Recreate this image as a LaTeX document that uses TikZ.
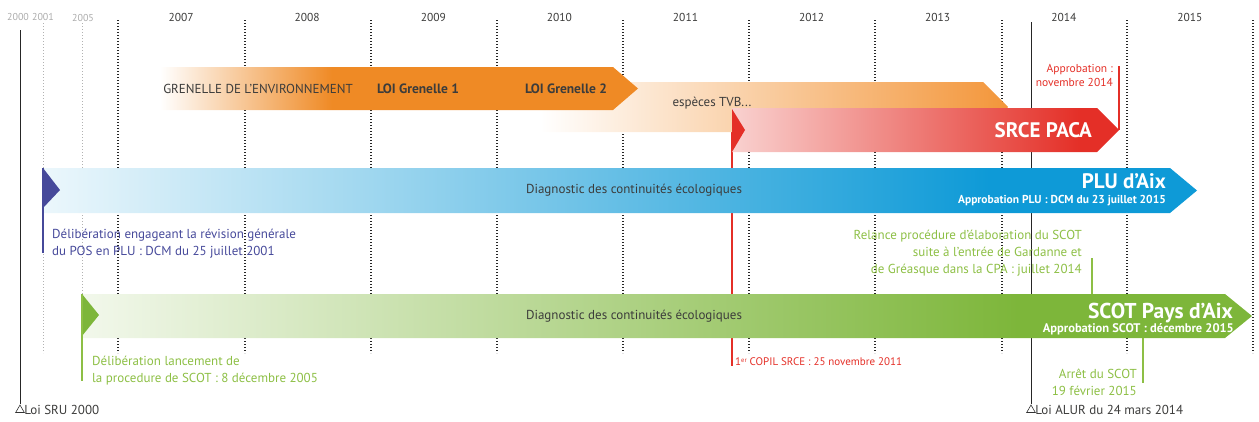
\documentclass[tikz,border=0pt]{standalone}
\usepackage{fontspec}
\setmainfont{PT Sans}
\usepackage{tikz}
\usetikzlibrary{positioning,shapes.geometric}
\definecolor{txtgray}{HTML}{3C3C3B}
\definecolor{yeargray}{HTML}{ABABAB}
\definecolor{navyplu}{HTML}{46499A}
\definecolor{bluplu}{HTML}{0E9AD7}
\definecolor{greenscot}{HTML}{7DB63A}
\definecolor{greentxt}{HTML}{8DBF45}
\definecolor{redsrce}{HTML}{E42F27}
\definecolor{orangegr}{HTML}{EF8A25}
\definecolor{orangetvb}{HTML}{F3963A}
\colorlet{srcelight}{redsrce!22}
\colorlet{plulight}{bluplu!8}
\colorlet{scotlight}{greenscot!10}
% degrades des bandes
\pgfdeclarehorizontalshading{grenelleshade}{100bp}{color(0bp)=(white); color(25bp)=(white); color(43bp)=(orangegr); color(100bp)=(orangegr)}
\pgfdeclarehorizontalshading{tvbshade}{100bp}{color(0bp)=(white); color(25bp)=(white); color(75bp)=(orangetvb); color(100bp)=(orangetvb)}
\pgfdeclarehorizontalshading{srceshade}{100bp}{color(0bp)=(srcelight); color(25bp)=(srcelight); color(70bp)=(redsrce); color(100bp)=(redsrce)}
\pgfdeclarehorizontalshading{plushade}{100bp}{color(0bp)=(plulight); color(25bp)=(plulight); color(66bp)=(bluplu); color(100bp)=(bluplu)}
\pgfdeclarehorizontalshading{scotshade}{100bp}{color(0bp)=(scotlight); color(25bp)=(scotlight); color(65bp)=(greenscot); color(100bp)=(greenscot)}
\newcommand{\premier}{1\raisebox{3.5pt}{\fontsize{6.5}{7}\selectfont er}}
\tikzset{
  yearlbl/.style={font=\fontsize{11.5}{12}\selectfont, text=txtgray, inner sep=0pt},
  oldyearlbl/.style={font=\fontsize{10}{10}\selectfont, text=yeargray, inner sep=0pt},
  gridline/.style={line width=1.2pt, dash pattern=on 1.2pt off 1.8pt, black!85},
  oldgridline/.style={line width=1pt, dash pattern=on 1pt off 2pt, black!30},
  lawline/.style={line width=1pt, black!85},
  lawtri/.style={regular polygon, regular polygon sides=3, draw=black!80, line width=0.6pt,
    minimum size=10pt, inner sep=0pt},
  lawlbl/.style={font=\fontsize{13}{14}\selectfont, text=txtgray, inner sep=0pt},
  bandmid/.style={font=\fontsize{13}{14}\selectfont, text=txtgray, inner sep=0pt},
  bandbold/.style={bandmid, font=\fontsize{13.5}{14}\selectfont\bfseries},
  bandtitle/.style={font=\fontsize{21}{22}\selectfont\bfseries, text=white, inner sep=0pt},
  bandsub/.style={font=\fontsize{11.5}{12}\selectfont\bfseries, text=white, inner sep=0pt},
  note/.style={font=\fontsize{13}{17}\selectfont, inner sep=0pt},
  plunote/.style={note, text=navyplu},
  scotnote/.style={note, text=greentxt},
  srcenote/.style={font=\fontsize{11.5}{14}\selectfont, text=redsrce, inner sep=0pt},
  plumark/.style={navyplu, line width=1.3pt},
  scotmark/.style={greentxt, line width=1.3pt},
  srcemark/.style={redsrce, line width=1.1pt},
}

\begin{document}
\begin{tikzpicture}[x=1pt,y=-1pt]
  \useasboundingbox (0,0) rectangle (1259,421);
  % grille des annees
  \foreach \x in {118,245,371,497,623,749,875,1002,1127,1253}
    \draw[gridline] (\x,20) -- (\x,353);
  \draw[oldgridline] (43,23) -- (43,353);
  \draw[oldgridline] (82,23) -- (82,294);
  \foreach \yr [count=\i] in {2007,2008,2009,2010,2011,2012,2013,2014,2015}
    \node[yearlbl] (y\yr) at ({55+126.1*\i},17) {\yr};
  \node[oldyearlbl] (y2000) at (18,17) {2000};
  \node[oldyearlbl] (y2001) at (43,17) {2001};
  \node[oldyearlbl] (y2005) at (83,18) {2005};
  % lois
  \coordinate (srutop) at (20,30);
  \node[lawtri] (srutri) at (20,410) {};
  \draw[lawline] (srutop) -- (srutri.north);
  \node[lawlbl, right=1pt of srutri] (srulbl) {Loi SRU 2000};
  \coordinate (alurtop) at (1031,22);
  \node[lawtri] (alurtri) at (1031,410) {};
  \draw[lawline] (alurtop) -- (alurtri.north);
  \node[lawlbl, right=1pt of alurtri] (alurlbl) {Loi ALUR du 24 mars 2014};
  % SRCE : trait du COPIL
  \coordinate (srceflag) at (732,109);
  \coordinate (copilend) at (732,366);
  \draw[srcemark] (srceflag) -- (copilend);
  % bandes
  \shade[shading=tvbshade] (540,82) -- (983,82) -- (1008,107) -- (983,132) -- (540,132) -- cycle;
  \shade[shading=grenelleshade] (160,67) -- (613,67) -- (638,88.5) -- (613,110) -- (160,110) -- cycle;
  \shade[shading=srceshade] (732,108) -- (1097,108) -- (1119,130) -- (1097,152) -- (732,152) -- cycle;
  \shade[shading=plushade] (43,168) -- (1170,168) -- (1197,190.5) -- (1170,213) -- (43,213) -- cycle;
  \shade[shading=scotshade] (82,294) -- (1225,294) -- (1252,316) -- (1225,338) -- (82,338) -- cycle;
  % drapeaux
  \coordinate (pluflag) at (43,168);
  \coordinate (pluend) at (43,253);
  \coordinate (scotflag) at (82,294);
  \coordinate (scotend) at (82,381);
  \fill[redsrce] (srceflag) -- ++(13,21) -- ++(-13,22) -- cycle;
  \fill[navyplu] (pluflag) -- ++(17,22) -- ++(-17,18) -- cycle;
  \fill[greenscot] (scotflag) -- ++(17,21) -- ++(-17,21) -- cycle;
  \draw[plumark] (pluflag) -- (pluend);
  \draw[scotmark] (scotflag) -- (scotend);
  % reperes
  \coordinate (srcetip) at (1119,130);
  \coordinate (srceapp) at (1119,66);
  \draw[srcemark] (srcetip) -- (srceapp);
  \coordinate (relancetop) at (1092,258);
  \coordinate (relancebar) at (1092,294);
  \draw[scotmark] (relancetop) -- (relancebar);
  \coordinate (arretbar) at (1143,338);
  \coordinate (arretend) at (1143,383);
  \draw[scotmark] (arretbar) -- (arretend);
  % textes des bandes
  \node[bandmid] (grenelle) at (258,88.5) {GRENELLE DE L’ENVIRONNEMENT};
  \node[bandbold] (loi1) at (418,88.5) {LOI Grenelle 1};
  \node[bandbold] (loi2) at (566,88.5) {LOI Grenelle 2};
  \node[bandmid] (tvb) at (712,103) {espèces TVB...};
  \node[bandtitle, anchor=base east] (srce) at (1092,137) {SRCE PACA};
  \node[srcenote, anchor=north east, align=right] (srceappr) at (1113,64) {Approbation :\\novembre 2014};
  \node[bandmid] (plumid) at (634,190) {Diagnostic des continuités écologiques};
  \node[bandtitle, anchor=base east] (plutitle) at (1166,188) {PLU d’Aix};
  \node[bandsub, anchor=base east] (plusub) at (1166,203) {Approbation PLU : DCM du 23 juillet 2015};
  \node[bandmid] (scotmid) at (634,316) {Diagnostic des continuités écologiques};
  \node[bandtitle, font=\fontsize{21.5}{22}\selectfont\bfseries, anchor=base east] (scottitle) at (1233,318) {SCOT Pays d’Aix};
  \node[bandsub, font=\fontsize{12.5}{13}\selectfont\bfseries, anchor=base east] (scotsub) at (1234,332) {Approbation SCOT : décembre 2015};
  % notes
  \node[plunote, anchor=north west, align=left] (pludelib) at (52,229) {Délibération engageant la révision générale\\du POS en PLU : DCM du 25 juillet 2001};
  \node[scotnote, anchor=north east, align=right] (relance) at (1082,230) {Relance procédure d’élaboration du SCOT\\suite à l’entrée de Gardanne et\\de Gréasque dans la CPA : juillet 2014};
  \node[scotnote, anchor=north west, align=left] (scotdelib) at (92,356) {Délibération lancement de\\la procedure de SCOT : 8 décembre 2005};
  \node[srcenote, font=\fontsize{11}{13}\selectfont, anchor=west] (copil) at (735,362) {\premier{} COPIL SRCE : 25 novembre 2011};
  \node[scotnote, anchor=north east, align=right] (arret) at (1137,369) {Arrêt du SCOT\\19 février 2015};
\end{tikzpicture}
\end{document}
